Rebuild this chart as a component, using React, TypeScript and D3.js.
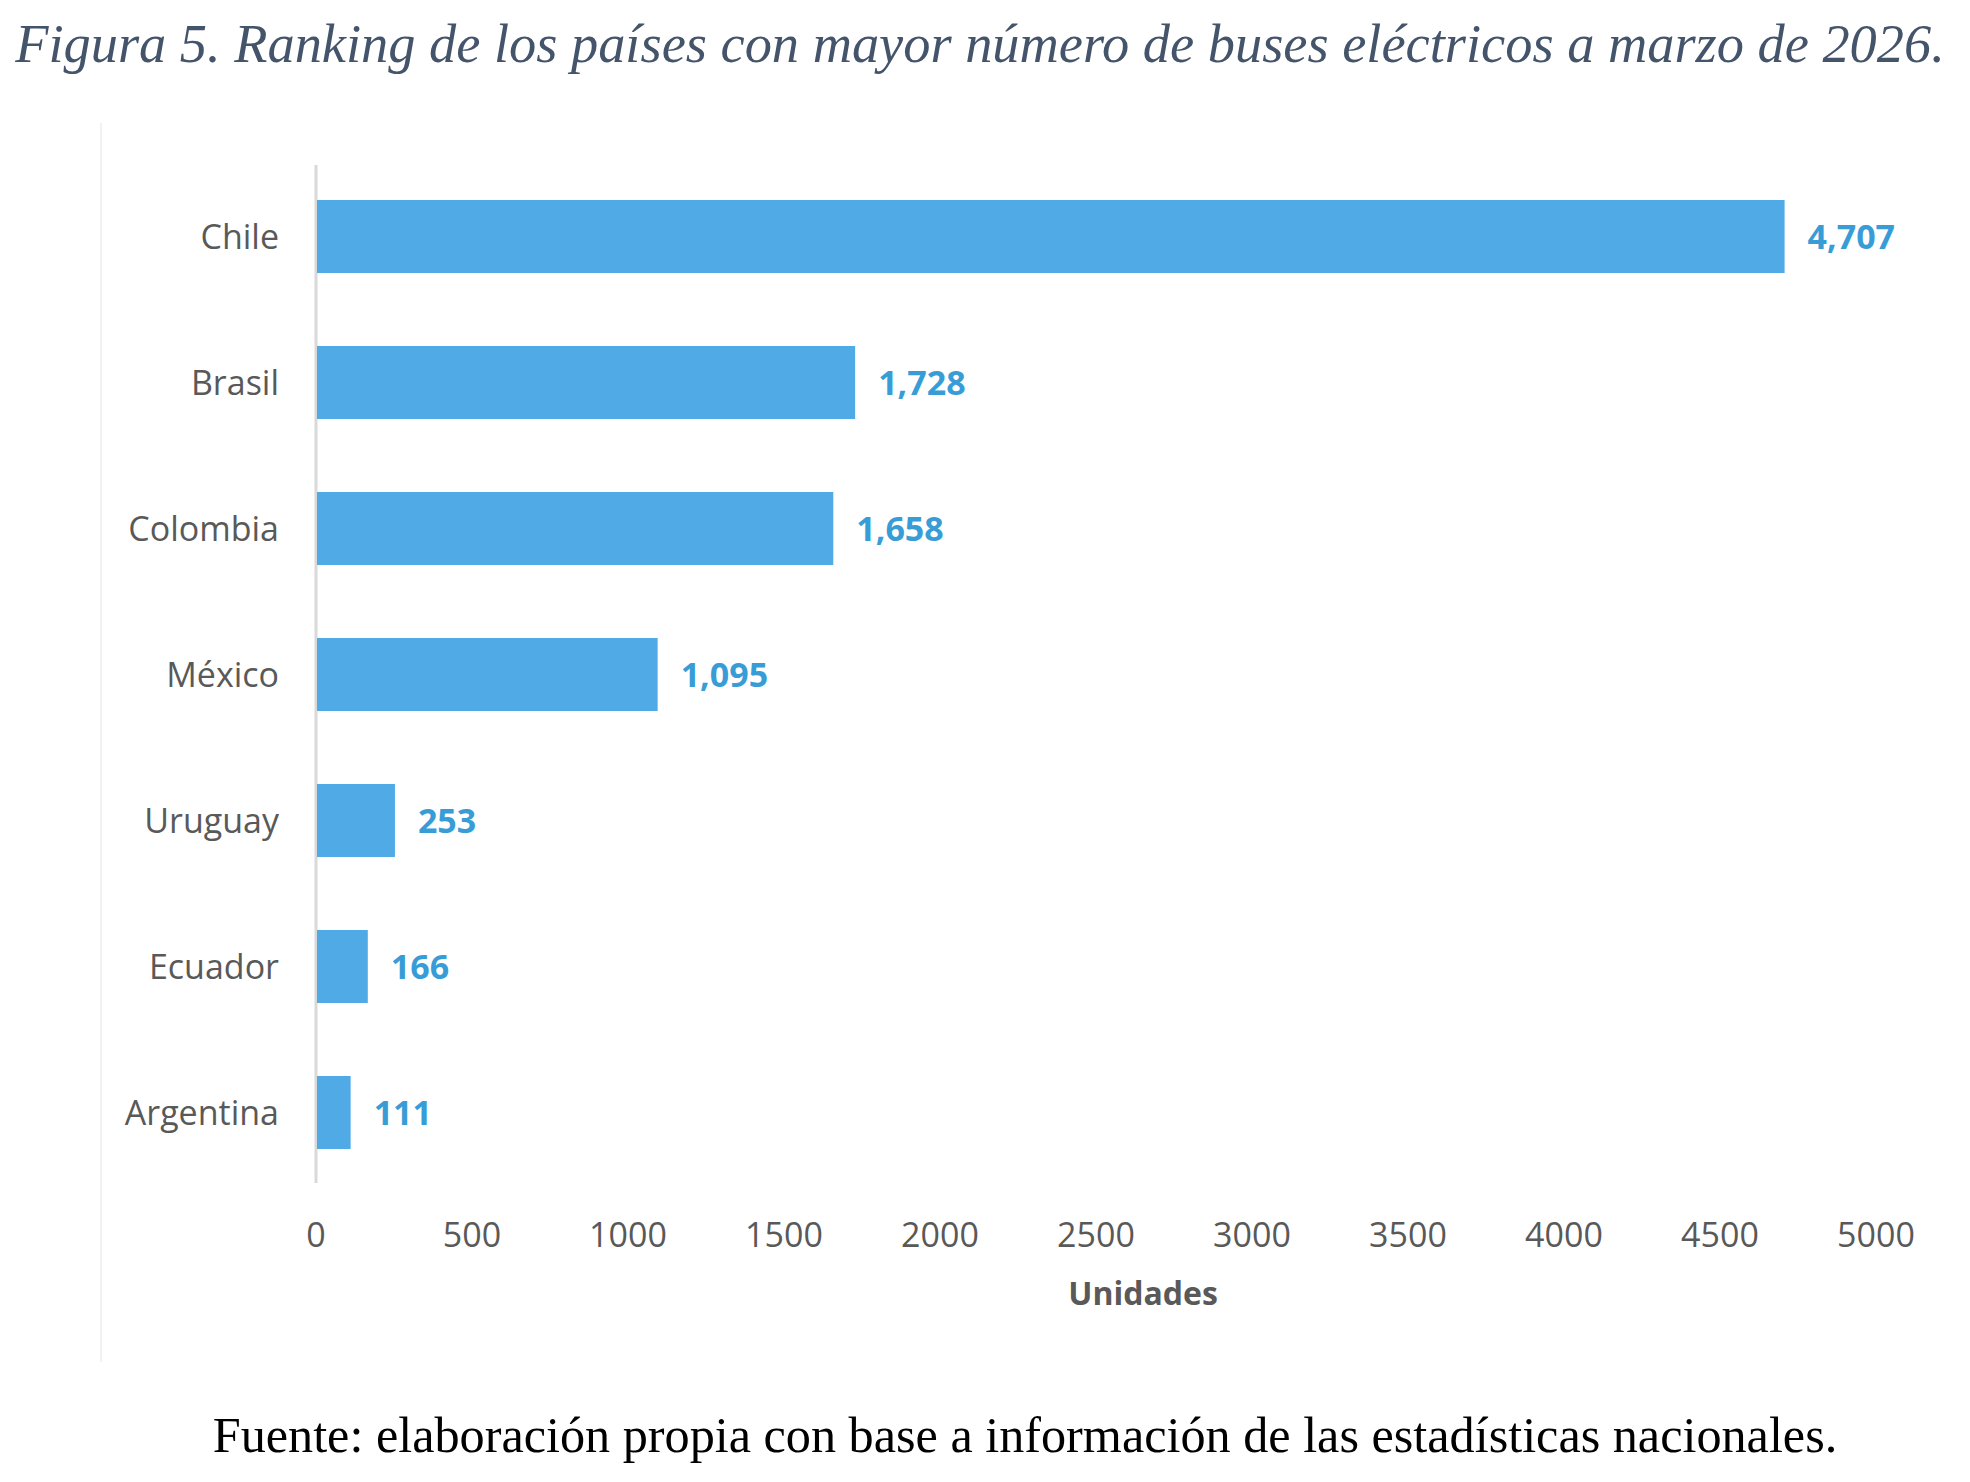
import React, { useLayoutEffect, useRef } from "react";
import * as d3 from "d3";

const countries = ["Chile", "Brasil", "Colombia", "México", "Uruguay", "Ecuador", "Argentina"];
const buses = [4707, 1728, 1658, 1095, 253, 166, 111];
const xTicks = [0, 500, 1000, 1500, 2000, 2500, 3000, 3500, 4000, 4500, 5000];

const titleText = "Figura 5. Ranking de los países con mayor número de buses eléctricos a marzo de 2026.";
const sourceText = "Fuente: elaboración propia con base a información de las estadísticas nacionales.";
const xAxisTitle = "Unidades";

const W = 1970;
const H = 1482;

function fitText(el: SVGTextElement | null, target: number, maxSize: number) {
  if (!el) return;
  const sel = d3.select(el);
  sel.attr("font-size", maxSize);
  const len = el.getComputedTextLength();
  if (len > target) {
    sel.attr("font-size", (maxSize * target) / len);
  }
}

export default function App() {
  const titleRef = useRef<SVGTextElement>(null);
  const sourceRef = useRef<SVGTextElement>(null);

  useLayoutEffect(() => {
    fitText(titleRef.current, 1930, 66);
    fitText(sourceRef.current, 1625, 56);
  }, []);

  const x = d3.scaleLinear().domain([0, 5000]).range([316, 1876]);
  const y = d3
    .scaleBand<string>()
    .domain(countries)
    .range([163.5, 1185.5])
    .paddingInner(0.5)
    .paddingOuter(0.25);
  const fmt = d3.format(",");
  const sans = "'Open Sans', 'Noto Sans', sans-serif";
  const serif = "'Liberation Serif', 'DejaVu Serif', serif";

  return (
    <>
      <style>{`body{margin:0;background:#fff}`}</style>
      <svg width={W} height={H} viewBox={`0 0 ${W} ${H}`} style={{ display: "block" }}>
        <rect x={0} y={0} width={W} height={H} fill="#ffffff" />
        {/* faint chart frame edge */}
        <line x1={101} x2={101} y1={123} y2={1362} stroke="#f2f2f2" strokeWidth={2} />

        {/* title */}
        <text
          ref={titleRef}
          x={W / 2 - 5}
          y={62}
          textAnchor="middle"
          fontFamily={serif}
          fontStyle="italic"
          fontSize={66}
          fill="#44546A"
        >
          {titleText}
        </text>

        {/* axis line */}
        <line x1={x(0)} x2={x(0)} y1={165} y2={1183} stroke="#d9d9d9" strokeWidth={3} />

        {/* bars */}
        {countries.map((c, i) => (
          <rect
            key={c}
            x={x(0) + 1}
            y={y(c)!}
            width={x(buses[i]) - x(0) - 1}
            height={y.bandwidth()}
            fill="#4FAAE6"
          />
        ))}

        {/* value labels */}
        {countries.map((c, i) => (
          <text
            key={c + "v"}
            x={x(buses[i]) + 23}
            y={y(c)! + y.bandwidth() / 2}
            dy="0.36em"
            fontFamily={sans}
            fontWeight={700}
            fontSize={34}
            fill="#389DD6"
          >
            {fmt(buses[i])}
          </text>
        ))}

        {/* category labels */}
        {countries.map((c) => (
          <text
            key={c + "c"}
            x={279}
            y={y(c)! + y.bandwidth() / 2}
            dy="0.36em"
            textAnchor="end"
            fontFamily={sans}
            fontSize={34}
            fill="#595959"
          >
            {c}
          </text>
        ))}

        {/* x tick labels */}
        {xTicks.map((t) => (
          <text
            key={t}
            x={x(t)}
            y={1247}
            textAnchor="middle"
            fontFamily={sans}
            fontSize={34}
            fill="#595959"
          >
            {t}
          </text>
        ))}

        {/* x axis title */}
        <text
          x={1143}
          y={1305}
          textAnchor="middle"
          fontFamily={sans}
          fontWeight={700}
          fontSize={32}
          fill="#595959"
        >
          {xAxisTitle}
        </text>

        {/* source */}
        <text
          ref={sourceRef}
          x={1025}
          y={1452}
          textAnchor="middle"
          fontFamily={serif}
          fontSize={56}
          fill="#000000"
        >
          {sourceText}
        </text>
      </svg>
    </>
  );
}
